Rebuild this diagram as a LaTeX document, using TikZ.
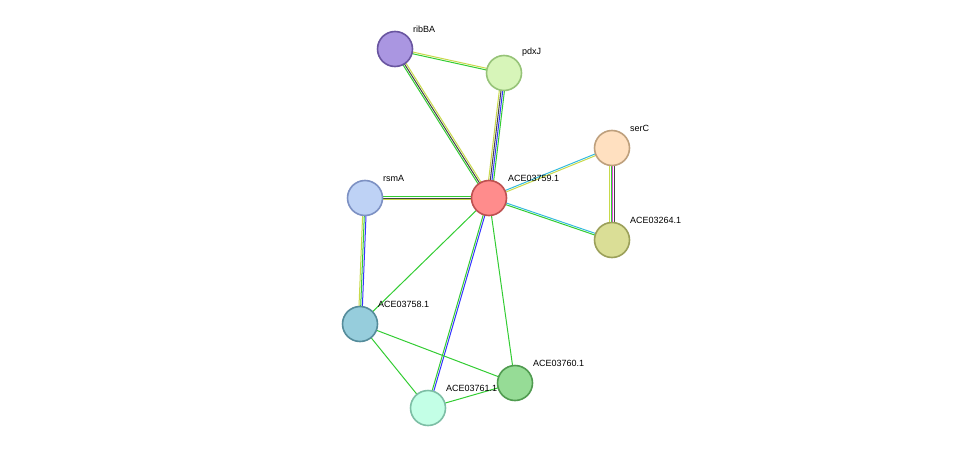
\documentclass[tikz,border=0pt]{standalone}
\usepackage{fontspec}
\setmainfont{Liberation Sans}
\usetikzlibrary{calc}
\definecolor{eg}{HTML}{33CC33}
\definecolor{ey}{HTML}{C8D94A}
\definecolor{eb}{HTML}{3333FF}
\definecolor{ek}{HTML}{444444}
\definecolor{ec}{HTML}{33BBDD}
\definecolor{em}{HTML}{DD44DD}
\tikzset{prot/.style={circle,minimum size=35pt,line width=1.6pt,inner sep=0pt},
 lab/.style={font=\fontsize{9pt}{10pt}\selectfont,anchor=south west,inner sep=1pt}}
\newcommand{\edgeline}[4]{%
 \foreach \c [count=\i] in {#4}{%
  \pgfmathsetmacro{\off}{(\i-(#3+1)/2)*1.7}%
  \draw[\c,line width=1pt] ($(#1)!\off pt!90:(#2)$) -- ($(#2)!\off pt!-90:(#1)$);}}
\begin{document}
\begin{tikzpicture}[x=1pt,y=-1pt]
\useasboundingbox (0,0) rectangle (976,455);
\coordinate (ribBA) at (395,49);
\coordinate (pdxJ) at (504,73);
\coordinate (serC) at (612,148);
\coordinate (c759) at (489,198);
\coordinate (rsmA) at (365,198);
\coordinate (c264) at (612,240);
\coordinate (c758) at (360,324);
\coordinate (c760) at (515,383);
\coordinate (c761) at (428,408);
\edgeline{ribBA}{pdxJ}{2}{eg,ey}
\edgeline{ribBA}{c759}{3}{eg,ek,ey}
\edgeline{pdxJ}{c759}{4}{ey,ek,eb,eg}
\edgeline{serC}{c759}{2}{ec,ey}
\edgeline{c264}{c759}{2}{ec,eg}
\edgeline{serC}{c264}{4}{ey,eg,em,ek}
\edgeline{rsmA}{c759}{3}{ey,ek,eg}
\edgeline{rsmA}{c758}{3}{ey,eg,eb}
\edgeline{c758}{c759}{1}{eg}
\edgeline{c761}{c759}{2}{eb,eg}
\edgeline{c760}{c759}{1}{eg}
\edgeline{c758}{c760}{1}{eg}
\edgeline{c758}{c761}{1}{eg}
\edgeline{c761}{c760}{1}{eg}
\node[prot,fill={rgb,255:red,170;green,150;blue,225},draw={rgb,255:red,105;green,85;blue,160}] (nribBA) at (ribBA) {};
\node[prot,fill={rgb,255:red,215;green,245;blue,185},draw={rgb,255:red,150;green,195;blue,120}] (npdxJ) at (pdxJ) {};
\node[prot,fill={rgb,255:red,255;green,224;blue,192},draw={rgb,255:red,190;green,160;blue,125}] (nserC) at (serC) {};
\node[prot,fill={rgb,255:red,255;green,140;blue,140},draw={rgb,255:red,190;green,80;blue,80}] (n759) at (c759) {};
\node[prot,fill={rgb,255:red,190;green,210;blue,245},draw={rgb,255:red,125;green,145;blue,195}] (nrsmA) at (rsmA) {};
\node[prot,fill={rgb,255:red,218;green,222;blue,150},draw={rgb,255:red,155;green,160;blue,90}] (n264) at (c264) {};
\node[prot,fill={rgb,255:red,150;green,205;blue,220},draw={rgb,255:red,85;green,140;blue,155}] (n758) at (c758) {};
\node[prot,fill={rgb,255:red,150;green,220;blue,150},draw={rgb,255:red,80;green,155;blue,80}] (n760) at (c760) {};
\node[prot,fill={rgb,255:red,195;green,255;blue,230},draw={rgb,255:red,125;green,190;blue,165}] (n761) at (c761) {};
\node[lab] at (412,34) {ribBA};
\node[lab] at (521,58) {pdxJ};
\node[lab] at (629,133) {serC};
\node[lab] at (507,183) {ACE03759.1};
\node[lab] at (382,183) {rsmA};
\node[lab] at (629,225) {ACE03264.1};
\node[lab] at (377,309) {ACE03758.1};
\node[lab] at (532,368) {ACE03760.1};
\node[lab] at (445,393) {ACE03761.1};
\end{tikzpicture}
\end{document}
